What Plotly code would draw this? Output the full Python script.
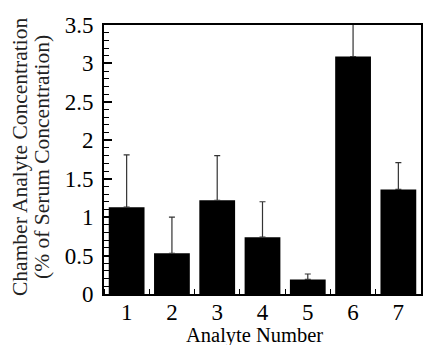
import plotly.graph_objects as go

analytes = [1, 2, 3, 4, 5, 6, 7]
values = [1.13, 0.53, 1.22, 0.74, 0.19, 3.09, 1.36]
err_plus = [0.68, 0.47, 0.58, 0.46, 0.07, 0.55, 0.35]
y_ticks = [0, 0.5, 1, 1.5, 2, 2.5, 3, 3.5]

FONT = "Liberation Serif"
L, R, T, B = 104, 2, 25, 51
PW, PH = 423 - L - R, 345 - T - B

fig = go.Figure(go.Bar(
    x=analytes, y=values,
    marker=dict(color="black", line=dict(width=0)),
    error_y=dict(type="data", array=err_plus, symmetric=False, arrayminus=[0]*7,
                 color="#333", thickness=1.2, width=3),
    cliponaxis=True,
))

fig.update_layout(
    width=423, height=345,
    margin=dict(l=L, r=R, t=T, b=B, autoexpand=False),
    plot_bgcolor="white", paper_bgcolor="white",
    bargap=0.21, showlegend=False,
    font=dict(family=FONT, color="black"),
    xaxis=dict(range=[0.5, 7.5], tickvals=analytes, ticktext=[str(a) for a in analytes],
               ticks="", showgrid=False, zeroline=False, automargin=False,
               showline=True, mirror=True, linecolor="black", linewidth=1.5,
               tickfont=dict(size=23, family=FONT), ticklabelstandoff=-3,
               minor=dict(tick0=0.5, dtick=1, ticks="inside", ticklen=5, tickcolor="black", tickwidth=1)),
    yaxis=dict(range=[0, 3.5], tickvals=y_ticks, ticks="inside", ticklen=8, tickwidth=1.5, tickcolor="black",
               showgrid=False, zeroline=False, automargin=False,
               showline=True, mirror=True, linecolor="black", linewidth=1.8,
               tickfont=dict(size=23, family=FONT), ticklabelstandoff=4,
               minor=dict(dtick=0.1, ticks="inside", ticklen=5, tickcolor="black", tickwidth=1.2)),
    annotations=[
        dict(text="Chamber Analyte Concentration", xref="paper", yref="paper",
             x=(20 - L) / PW, y=(294 - 157) / PH, xanchor="center", yanchor="middle",
             textangle=-90, showarrow=False,
             font=dict(size=21.5, family=FONT, color="#222")),
        dict(text="(% of Serum Concentration)", xref="paper", yref="paper",
             x=(42 - L) / PW, y=(294 - 157) / PH, xanchor="center", yanchor="middle",
             textangle=-90, showarrow=False,
             font=dict(size=21.5, family=FONT, color="#222")),
        dict(text="Analyte Number", xref="paper", yref="paper",
             x=(254 - L) / PW, y=(294 - 335) / PH, xanchor="center", yanchor="middle",
             showarrow=False, font=dict(size=20.5, family=FONT, color="black")),
    ],
)

fig.write_html("out.html", config={"displayModeBar": False},
               post_script="document.body.style.margin='0';document.body.style.overflow='hidden';")
